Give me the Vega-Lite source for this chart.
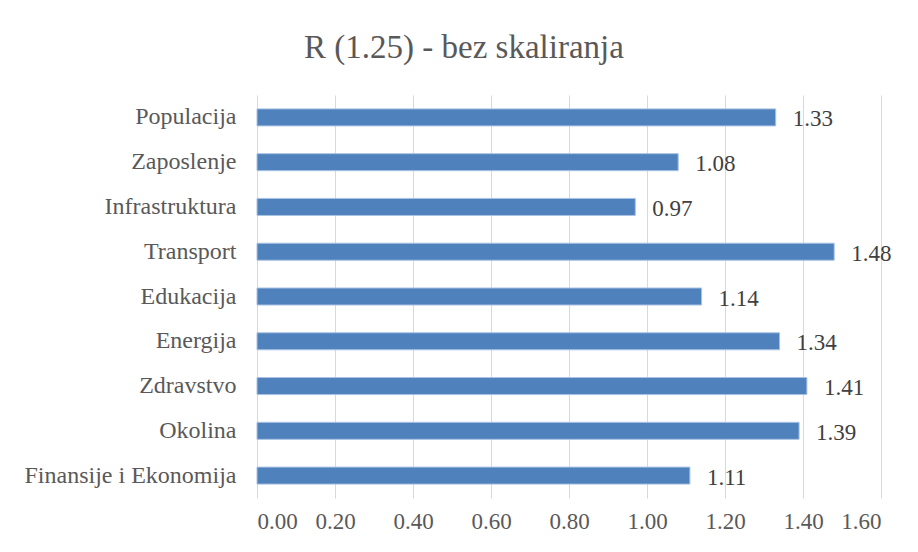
{
  "$schema": "https://vega.github.io/schema/vega-lite/v6.json",
  "width": 624,
  "height": 403,
  "autosize": {"type": "none"},
  "padding": {"left": 257, "top": 95, "right": 37, "bottom": 54},
  "background": "white",
  "title": {
    "text": "R (1.25) - bez skaliranja",
    "font": "Times New Roman",
    "fontSize": 33,
    "fontWeight": "normal",
    "color": "#595959",
    "anchor": "middle",
    "dx": -105,
    "offset": 30
  },
  "config": {
    "view": {"stroke": null},
    "axis": {"labelFont": "Times New Roman", "labelFontSize": 23, "labelColor": "#595959", "labelLimit": 400}
  },
  "data": {
    "values": [
      {"kategorija": "Populacija\u00a0", "vrijednost": 1.33},
      {"kategorija": "Zaposlenje", "vrijednost": 1.08},
      {"kategorija": "Infrastruktura", "vrijednost": 0.97},
      {"kategorija": "Transport", "vrijednost": 1.48},
      {"kategorija": "Edukacija", "vrijednost": 1.14},
      {"kategorija": "Energija", "vrijednost": 1.34},
      {"kategorija": "Zdravstvo", "vrijednost": 1.41},
      {"kategorija": "Okolina", "vrijednost": 1.39},
      {"kategorija": "Finansije i Ekonomija", "vrijednost": 1.11}
    ]
  },
  "encoding": {
    "y": {
      "field": "kategorija",
      "type": "nominal",
      "sort": null,
      "scale": {"paddingInner": 0.62, "paddingOuter": 0.31},
      "axis": {"title": null, "ticks": false, "domain": false, "labelPadding": 21, "grid": false, "labelFontSize": 24}
    },
    "x": {
      "field": "vrijednost",
      "type": "quantitative",
      "scale": {"domain": [0, 1.6], "nice": false},
      "axis": {
        "title": null,
        "values": [0, 0.2, 0.4, 0.6, 0.8, 1.0, 1.2, 1.4, 1.6],
        "format": ".2f",
        "ticks": false,
        "domain": false,
        "grid": true,
        "gridColor": "#d9d9d9",
        "gridWidth": 1,
        "labelPadding": 12
      }
    }
  },
  "layer": [
    {
      "mark": {"type": "bar", "color": "#4F81BD", "stroke": "#a9c2e3", "strokeWidth": 1}
    },
    {
      "mark": {"type": "text", "align": "left", "baseline": "middle", "dx": 17, "dy": 2, "font": "Times New Roman", "fontSize": 23, "color": "#404040"},
      "encoding": {"text": {"field": "vrijednost", "type": "quantitative", "format": ".2f"}}
    }
  ]
}
